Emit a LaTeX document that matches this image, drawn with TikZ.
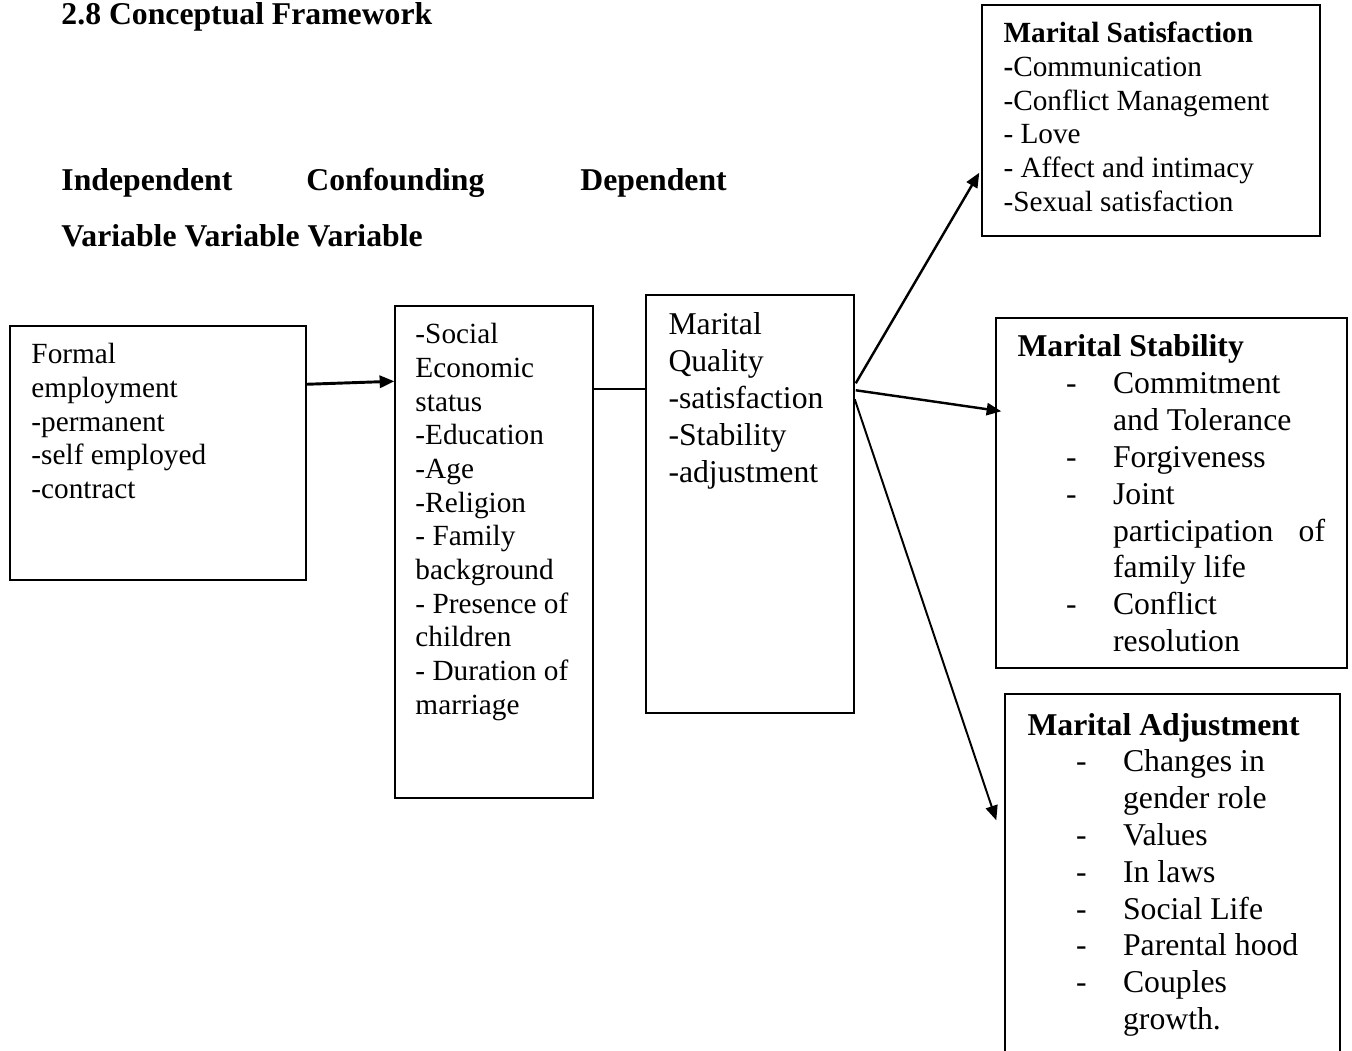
\documentclass[tikz,border=0pt]{standalone}
\usepackage{fontspec}
\setmainfont{Liberation Serif}
\usetikzlibrary{arrows.meta, calc, fit}

\newcommand\txtcol[1]{\parbox[t]{7cm}{#1}}
\newcommand\ditem[1]{\hspace*{19.9pt}\makebox[19.3pt][l]{-}#1}
\newcommand\dcont[1]{\hspace*{39.2pt}#1}

\tikzset{
  box/.style={draw, line width=0.6pt, inner sep=0pt},
  txt/.style={anchor=base west, inner sep=0pt, font=\fontsize{12}{13.8}\selectfont},
  bigtxt/.style={txt, font=\fontsize{13}{15.1}\selectfont},
  head/.style={anchor=base west, inner sep=0pt, font=\bfseries\fontsize{13}{15}\selectfont},
  conn/.style={line width=1pt}
}

\begin{document}
\begin{tikzpicture}[x=0.41pt, y=-0.41pt, >={Triangle[length=6pt, width=5pt]}]
  \clip (0,0) rectangle (1352,1051);
  \node[head] (title) at (61,25) {2.8 Conceptual Framework};
  \node[head] (indh) at (61,191) {Independent};
  \node[head] (confh) at (306,191) {Confounding};
  \node[head] (deph) at (580,191) {Dependent};
  \node[head] (varh) at (61,247) {Variable Variable Variable};

  \node[box, fit={(10,326) (306,580)}] (formal) {};
  \node[box, fit={(395,306) (593,798)}] (conf) {};
  \node[box, fit={(646,295) (854,713)}] (qual) {};
  \node[box, fit={(982,5) (1320,236)}] (sat) {};
  \node[box, fit={(996,318) (1347,668)}] (stab) {};
  \node[box, fit={(1005,694) (1340,1080)}] (adj) {};

  \node[txt] (formaltxt) at (31,364) {\txtcol{Formal\\ employment\\ -permanent\\ -self employed\\ -contract}};
  \node[txt] (conftxt) at (415,344) {\txtcol{-Social\\ Economic\\ status\\ -Education\\ -Age\\ -Religion\\ - Family\\ background\\ - Presence of\\ children\\ - Duration of\\ marriage}};
  \node[bigtxt] (qualtxt) at (668,335) {\txtcol{Marital\\ Quality\\ -satisfaction\\ -Stability\\ -adjustment}};
  \node[txt] (sattxt) at (1003,43) {\txtcol{\textbf{Marital Satisfaction}\\ \textbf{-}Communication\\ -Conflict Management\\ - Love\\ - Affect and intimacy\\ -Sexual satisfaction}};
  \node[bigtxt] (stabtxt) at (1017,357) {\txtcol{\textbf{Marital Stability}\\ \ditem{Commitment}\\ \dcont{and Tolerance}\\ \ditem{Forgiveness}\\ \ditem{Joint}\\ \dcont{participation\hspace{10.4pt}of}\\ \dcont{family life}\\ \ditem{Conflict}\\ \dcont{resolution}}};
  \node[bigtxt] (adjtxt) at (1027,735) {\txtcol{\textbf{Marital Adjustment}\\ \ditem{Changes in}\\ \dcont{gender role}\\ \ditem{Values}\\ \ditem{In laws}\\ \ditem{Social Life}\\ \ditem{Parental hood}\\ \ditem{Couples}\\ \dcont{growth.}}};

  \draw[conn, ->, line width=1.2pt] ($(formal.north east)+(0,59)$) -- ($(conf.north west)+(0,76)$);
  \draw[conn] ($(conf.north east)+(0,84)$) -- ($(qual.north west)+(0,95)$);
  \draw[conn, ->] ($(qual.north east)+(1,89)$) -- ($(sat.south west)+(-2,-64)$);
  \draw[conn, ->] ($(qual.north east)+(1,96)$) -- ($(stab.north west)+(6,94)$);
  \draw[conn, ->, line width=0.8pt] ($(qual.north east)+(0,105)$) -- ($(adj.north west)+(-8,127)$);
\end{tikzpicture}
\end{document}
